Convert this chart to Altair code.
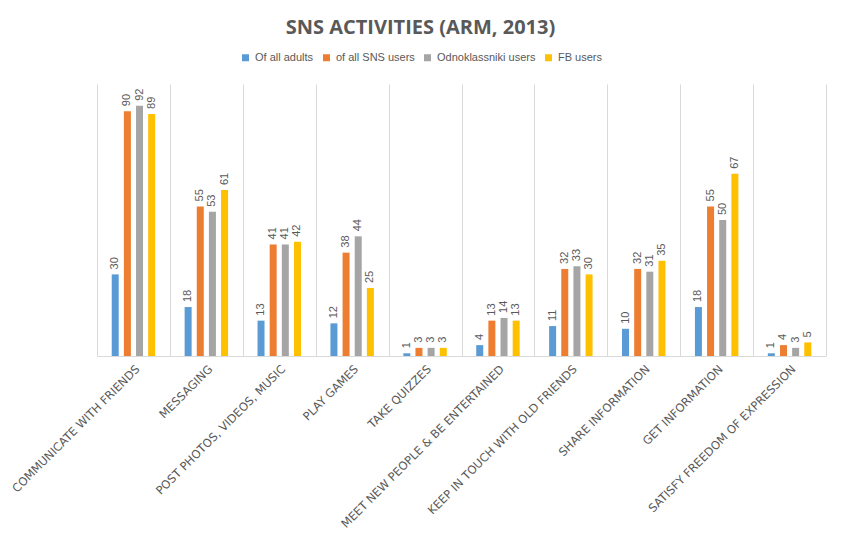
import altair as alt
import pandas as pd

categories = [
    "COMMUNICATE WITH FRIENDS",
    "MESSAGING",
    "POST PHOTOS, VIDEOS, MUSIC",
    "PLAY GAMES",
    "TAKE QUIZZES",
    "MEET NEW PEOPLE & BE ENTERTAINED",
    "KEEP IN TOUCH WITH OLD FRIENDS",
    "SHARE INFORMATION",
    "GET INFORMATION",
    "SATISFY FREEDOM OF EXPRESSION",
]
series = ["Of all adults", "of all SNS users", "Odnoklassniki users", "FB users"]
of_all_adults = [30, 18, 13, 12, 1, 4, 11, 10, 18, 1]
of_all_sns_users = [90, 55, 41, 38, 3, 13, 32, 32, 55, 4]
odnoklassniki_users = [92, 53, 41, 44, 3, 14, 33, 31, 50, 3]
fb_users = [89, 61, 42, 25, 3, 13, 30, 35, 67, 5]
colors = ["#5B9BD5", "#ED7D31", "#A5A5A5", "#FFC000"]

rows = []
for s, vals in zip(series, [of_all_adults, of_all_sns_users, odnoklassniki_users, fb_users]):
    for c, v in zip(categories, vals):
        rows.append({"category": c, "series": s, "value": v})
df = pd.DataFrame(rows)

x = alt.X(
    "category:N",
    sort=categories,
    title=None,
    scale=alt.Scale(paddingInner=0, paddingOuter=0),
    axis=alt.Axis(
        labelAngle=315,
        ticks=False,
        grid=True,
        tickBand="extent",
        gridColor="#D9D9D9",
        domainColor="#D9D9D9",
        labelColor="#595959",
        labelFont="DejaVu Sans",
        labelFontSize=11.5,
        labelPadding=7,
        labelLimit=400,
    ),
)
xo = alt.XOffset(
    "series:N",
    sort=series,
    scale=alt.Scale(paddingInner=0, paddingOuter=1),
)
y = alt.Y("value:Q", scale=alt.Scale(domain=[0, 100]), axis=None)

color = alt.Color(
    "series:N",
    sort=series,
    scale=alt.Scale(domain=series, range=colors),
    legend=alt.Legend(
        title=None,
        orient="none",
        direction="horizontal",
        legendX=143,
        legendY=-32,
        symbolType="square",
        symbolSize=49,
        symbolStrokeWidth=0,
        labelFontSize=11,
        labelFont="Liberation Sans",
        labelColor="#595959",
        columnPadding=7,
        labelOffset=4,
    ),
)

base = alt.Chart(df)
bars = base.mark_bar(width=7).encode(x=x, xOffset=xo, y=y, color=color)
labels = base.mark_text(
    angle=270, align="left", baseline="middle", dx=5,
    fontSize=11, font="Liberation Sans", color="#595959",
).encode(x=x, xOffset=xo, y=y, text="value:Q")

chart = (
    alt.layer(bars, labels)
    .properties(
        width=729,
        height=272,
        autosize=alt.AutoSizeParams(type="none"),
        padding={"left": 89, "top": 76, "right": 7, "bottom": 180},
        title=alt.Title(
            "SNS ACTIVITIES (ARM, 2013)",
            font="Open Sans",
            fontSize=20,
            fontWeight="bold",
            color="#595959",
            anchor="middle",
            dx=-41,
            offset=14,
        ),
        background="white",
    )
    .configure_view(stroke=None)
)

chart.save("out.html", embed_options={"renderer": "svg", "actions": False})
